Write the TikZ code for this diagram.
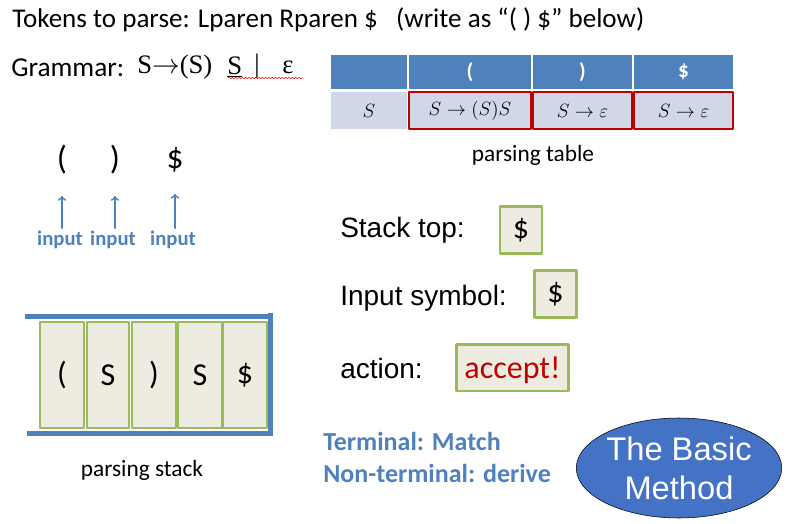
\documentclass[tikz,border=0pt]{standalone}
\usepackage{fontspec}
\setmainfont{Carlito}
\newfontfamily\arialfont{Liberation Sans}
\newfontfamily\timesfont{Liberation Serif}
\usepackage{xcolor}
\usetikzlibrary{shapes,arrows}
\usetikzlibrary{decorations.pathmorphing}
\definecolor{hdrblue}{HTML}{4F81BD}
\definecolor{rowgray}{HTML}{D0D8E8}
\definecolor{boxgreen}{HTML}{9BBB59}
\definecolor{boxfill}{HTML}{EEECE1}
\definecolor{acceptred}{HTML}{C00000}
\definecolor{ovalblue}{HTML}{4472C4}
\newcommand{\fsz}[1]{\fontsize{#1}{#1}\selectfont}

\begin{document}
\begin{tikzpicture}
    [line cap=round,line join=round,x=0.75pt,y=-0.75pt,
     hdr/.style={fill=hdrblue,text=white,inner sep=0pt,font=\fsz{16}\bfseries},
     rw/.style={fill=rowgray,inner sep=0pt,font=\fsz{14}},
     stk/.style={draw=boxgreen,line width=1.5pt,fill=boxfill,inner sep=0pt,minimum height=79.5pt,font=\fsz{24}},
     sbox/.style={draw=boxgreen,line width=2pt,fill=boxfill,inner sep=0pt,font=\fsz{24}},
     lbl/.style={anchor=west,inner sep=0pt,font=\arialfont\fsz{21}},
     gram/.style={anchor=west,inner sep=0pt,font=\timesfont\fsz{20}},
     inp/.style={text=hdrblue,inner sep=0pt,font=\fsz{15.5}\bfseries},
     tok/.style={inner sep=0pt,font=\fsz{25}}]
\useasboundingbox (0,0) rectangle (786,524);
%heading lines
 \node[anchor=west,inner sep=0pt,font=\fsz{20.3}] (title) at (12,20)
   {Tokens to parse: Lparen Rparen \$\ \ \ (write as “( ) \$” below)};
 \node[anchor=west,inner sep=0pt,font=\fsz{20.5}] (grammar) at (11,68) {Grammar:};
 \node[gram] (rhs1) at (137,67) {S$\rightarrow$(S)};
 \node[gram] (rhs2) at (227,67) {\underline{S}};
 \node[gram] (bar) at (254,66) {|};
 \node[gram] (eps) at (282,67) {ε};
 \draw[red,thin,decorate,decoration={snake,amplitude=0.5pt,segment length=2.5pt}] (228,78) -- (303,78);

%parsing table
 \node[hdr,minimum width=57pt,minimum height=25.5pt] (h0) at (369,72) {};
 \node[hdr,minimum width=91.5pt,minimum height=25.5pt] (h1) at (470,72) {(};
 \node[hdr,minimum width=74.25pt,minimum height=25.5pt] (h2) at (582.5,72) {)};
 \node[hdr,minimum width=74.25pt,minimum height=25.5pt] (h3) at (683.5,72) {\$};
 \node[rw,minimum width=57pt,minimum height=27.75pt] (r0) at (369,110.5) {$S$};
 \node[rw,minimum width=91.5pt,minimum height=27.75pt] (r1) at (470,110.5) {$S\rightarrow(S)S$};
 \node[rw,minimum width=74.25pt,minimum height=27.75pt] (r2) at (582.5,110.5) {$S\rightarrow\varepsilon$};
 \node[rw,minimum width=74.25pt,minimum height=27.75pt] (r3) at (683.5,110.5) {$S\rightarrow\varepsilon$};
 \foreach \c in {r1,r2,r3}
   \draw[acceptred,line width=1.5pt] (\c.north west) rectangle (\c.south east);
 \node[font=\fsz{17.5},inner sep=0pt] (tablbl) at (533,155) {parsing table};

%input tokens
 \node[tok] (tokL) at (62,160) {(};
 \node[tok] (tokR) at (115,160) {)};
 \node[tok] (tokD) at (175,160) {\$};
 \node[inp] (inL) at (60,240) {input};
 \node[inp] (inR) at (113,240) {input};
 \node[inp] (inD) at (173,240) {input};
 \foreach \a/\b in {inL/tokL,inR/tokR,inD/tokD}
   \draw[-to,hdrblue,line width=1.3pt,shorten >=16pt,shorten <=2pt] (\a.north -| \b) -- (\b);

%parsing stack
 \node[stk,minimum width=33pt] (s1) at (62,375) {(};
 \node[stk,minimum width=31.5pt] (s2) at (108,375) {S};
 \node[stk,minimum width=33pt] (s3) at (154,375) {)};
 \node[stk,minimum width=33pt] (s4) at (200,375) {S};
 \node[stk,minimum width=33pt] (s5) at (245,375) {\$};
 \draw[hdrblue,line width=3.75pt,line cap=butt] (25,316) -- (270,316) (27,433) -- (270,433) (270,313) -- (270,436);
 \node[font=\fsz{17.5},inner sep=0pt] (stklbl) at (142,470) {parsing stack};

%current step
 \node[lbl] (toplbl) at (340,230) {Stack top:};
 \node[sbox,minimum width=31.5pt,minimum height=35pt] (topbox) at (521,230) {\$};
 \node[lbl] (insymlbl) at (340,298) {Input symbol:};
 \node[sbox,minimum width=31.5pt,minimum height=35pt] (inbox) at (555.5,294) {\$};
 \node[lbl] (actlbl) at (340,368) {action:};
 \node[sbox,minimum width=84pt,minimum height=35pt,text height=18pt,text depth=2pt,text=acceptred] (actbox) at (512.5,367.5) {accept!};

%rules and oval
 \node[anchor=west,inner sep=0pt,text=hdrblue,font=\fsz{19.5}\bfseries,align=left] (rules) at (323,457.5)
   {Terminal: Match\\[4pt]Non-terminal: derive};
 \node[ellipse,draw=black,thin,fill=ovalblue,text=white,minimum width=153pt,minimum height=75pt,inner sep=0pt,
   align=center,font=\arialfont\fsz{24.5}] (oval) at (679,468) {The Basic\\[5pt]Method};
\end{tikzpicture}
\end{document}
